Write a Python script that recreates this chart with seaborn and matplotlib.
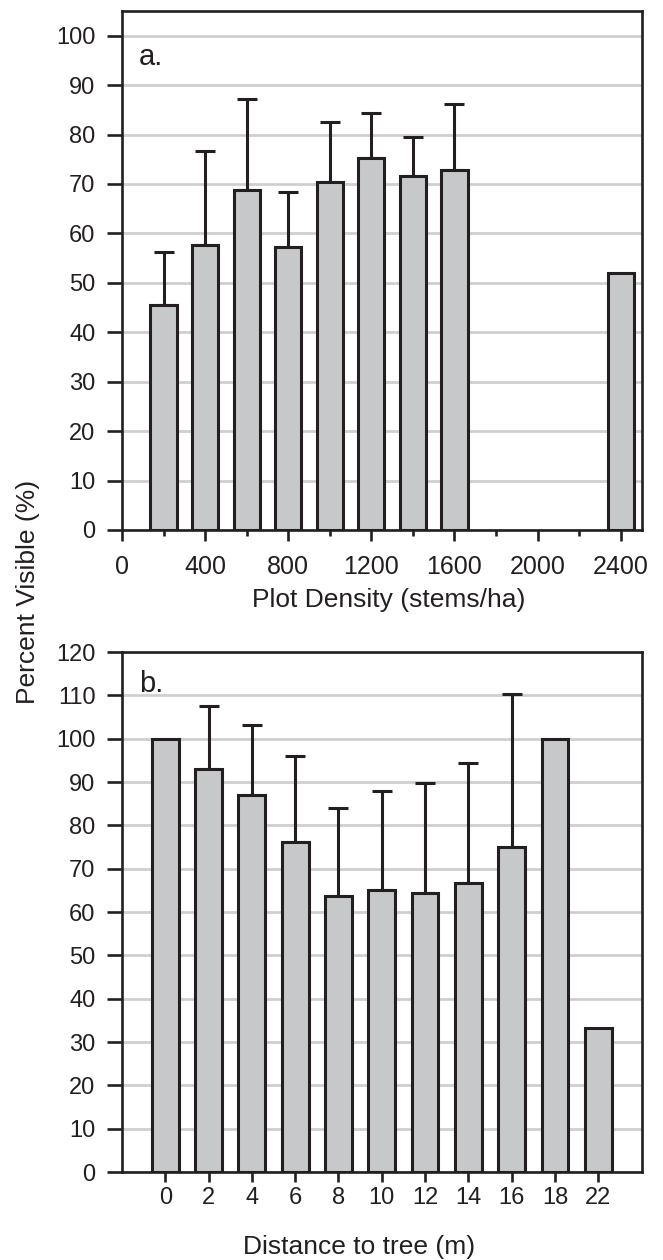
import numpy as np
import matplotlib
matplotlib.use('Agg')
import matplotlib.pyplot as plt
import seaborn as sns

# panel a: plot density
density = [200, 400, 600, 800, 1000, 1200, 1400, 1600, 2400]
density_mean = [45.5, 57.7, 68.8, 57.3, 70.3, 75.3, 71.7, 72.9, 52.0]
density_err = [10.7, 19.0, 18.4, 11.1, 12.2, 9.0, 7.7, 13.2, 0.0]

# panel b: distance to tree
distance = ['0', '2', '4', '6', '8', '10', '12', '14', '16', '18', '22']
distance_mean = [100.0, 92.9, 86.9, 76.2, 63.6, 65.2, 64.3, 66.7, 75.0, 100.0, 33.3]
distance_err = [0.0, 14.7, 16.3, 19.7, 20.3, 22.7, 25.5, 27.8, 35.4, 0.0, 0.0]

ink = '#231f20'
fill = '#c7c8ca'
gridc = '#cfcfcf'

sns.set_theme(style='white')
plt.rcParams['font.family'] = ['Liberation Sans', 'DejaVu Sans']
plt.rcParams['text.color'] = ink
plt.rcParams['axes.labelcolor'] = ink
plt.rcParams['xtick.color'] = ink
plt.rcParams['ytick.color'] = ink

fig = plt.figure(figsize=(6.63, 12.6), dpi=100)
ax1 = fig.add_axes([0.184, 0.5794, 0.7836, 0.4119])
ax2 = fig.add_axes([0.184, 0.0698, 0.7836, 0.4127])


def style_axes(ax):
    ax.set_axisbelow(True)
    ax.yaxis.grid(True, color=gridc, linewidth=2.0)
    ax.xaxis.grid(False)
    for s in ax.spines.values():
        s.set_color(ink)
        s.set_linewidth(1.9)
    ax.tick_params(axis='y', direction='out', length=11, width=1.9,
                   pad=8, labelsize=17, left=True)
    ax.set_ylabel('')


def add_err(ax, xs, means, errs):
    xs = np.asarray(xs, dtype=float)
    means = np.asarray(means)
    errs = np.asarray(errs)
    m = errs > 0
    ax.errorbar(xs[m], means[m], yerr=[np.zeros(m.sum()), errs[m]], fmt='none',
                ecolor=ink, elinewidth=2.2, capsize=7.5, capthick=2.2, zorder=1)


# --- panel a ---
sns.barplot(x=density, y=density_mean, native_scale=True, width=0.63,
            color=fill, saturation=1, edgecolor=ink, linewidth=2.2,
            errorbar=None, ax=ax1, zorder=2)
add_err(ax1, density, density_mean, density_err)
style_axes(ax1)
ax1.set_xlim(0, 2500)
ax1.set_ylim(0, 105)
ax1.set_yticks(range(0, 101, 10))
ax1.set_xticks(range(0, 2401, 400))
ax1.set_xticklabels([str(v) for v in range(0, 2401, 400)])
ax1.set_xticks(range(200, 2201, 400), minor=True)
ax1.tick_params(axis='x', which='major', direction='out', length=8, width=1.9,
                pad=10, labelsize=18, bottom=True)
ax1.tick_params(axis='x', which='minor', direction='out', length=4.5, width=1.9,
                bottom=True)
ax1.set_xlabel('Plot Density (stems/ha)', fontsize=19)
ax1.xaxis.set_label_coords(0.514, -0.112)
ax1.text(0.033, 0.896, 'a.', transform=ax1.transAxes, fontsize=21,
         va='baseline', ha='left')

# --- panel b ---
sns.barplot(x=distance, y=distance_mean, order=distance, width=0.62,
            color=fill, saturation=1, edgecolor=ink, linewidth=2.2,
            errorbar=None, ax=ax2, zorder=2)
add_err(ax2, range(len(distance)), distance_mean, distance_err)
style_axes(ax2)
ax2.set_xlim(-1, 11)
ax2.set_ylim(0, 120)
ax2.set_yticks(range(0, 121, 10))
ax2.tick_params(axis='x', direction='out', length=7, width=1.9, pad=4,
                labelsize=17, bottom=True)
ax2.set_xlabel('Distance to tree (m)', fontsize=19)
ax2.xaxis.set_label_coords(0.456, -0.122)
ax2.text(0.033, 0.923, 'b.', transform=ax2.transAxes, fontsize=21,
         va='baseline', ha='left')

fig.text(28 / 663, 0.530, 'Percent Visible (%)', rotation=90, fontsize=19,
         va='center', ha='center')

fig.savefig('out.png', dpi=100, facecolor='white')
